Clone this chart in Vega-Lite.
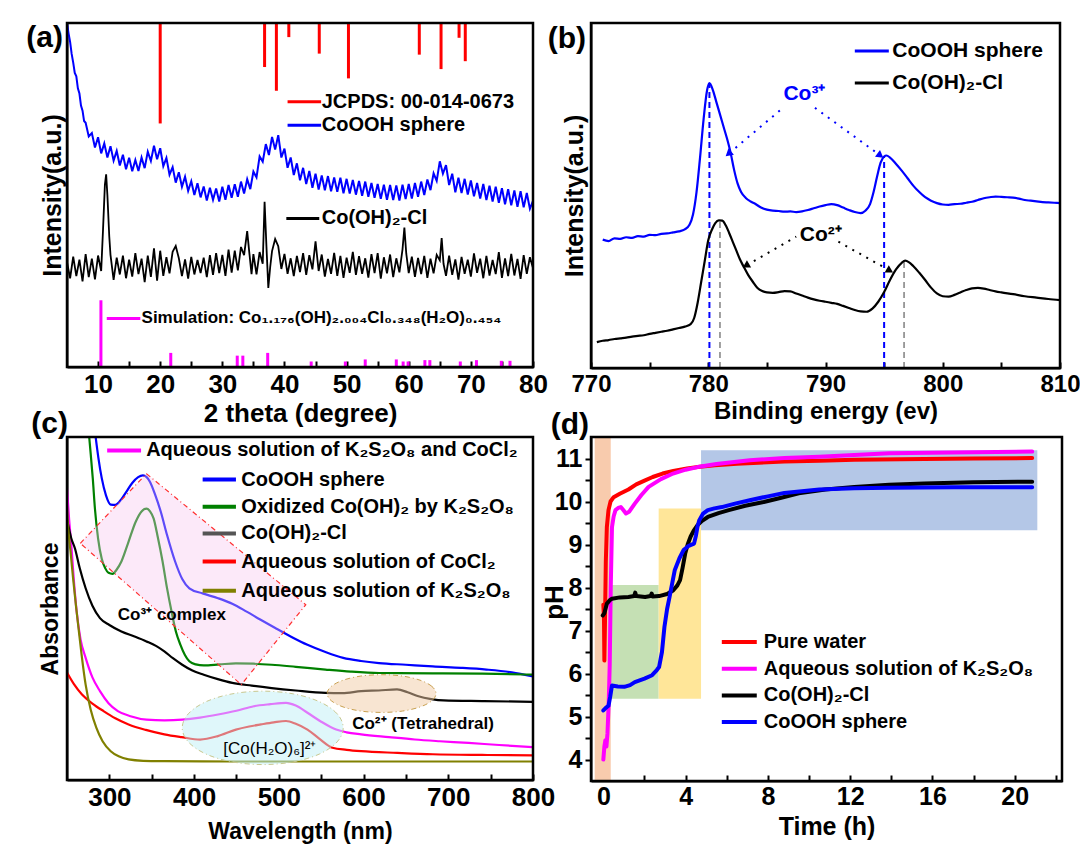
{
"$schema": "https://vega.github.io/schema/vega-lite/v6.json",
"background": "white",
"padding": {"left": 25, "top": 18, "right": 0, "bottom": 0},
"columns": 2,
"align": "each",
"bounds": "flush",
"spacing": {"row": 69, "column": 58},
"resolve": {"scale": {"color": "independent"}},
"datasets": {
"xrdBlue": [{"x":5,"y":100},{"x":5.25,"y":97},{"x":5.5,"y":94.5},{"x":5.75,"y":91},{"x":6,"y":88.5},{"x":6.25,"y":85.5},{"x":6.5,"y":84.5},{"x":6.75,"y":81},{"x":7,"y":79.5},{"x":7.25,"y":76},{"x":7.5,"y":74.5},{"x":7.75,"y":71.5},{"x":8,"y":71},{"x":8.5,"y":67},{"x":9,"y":68},{"x":9.5,"y":63.8},{"x":10,"y":66.8},{"x":10.5,"y":62.1},{"x":11,"y":65},{"x":11.5,"y":60.9},{"x":12,"y":64.2},{"x":12.5,"y":60},{"x":13,"y":62.8},{"x":13.5,"y":58.6},{"x":14,"y":61.7},{"x":14.5,"y":57.5},{"x":15,"y":60.8},{"x":15.5,"y":56.9},{"x":16,"y":60.2},{"x":16.5,"y":57},{"x":17,"y":60.9},{"x":17.5,"y":57.8},{"x":18,"y":62.6},{"x":18.5,"y":59.9},{"x":19,"y":64.3},{"x":19.5,"y":60.4},{"x":20,"y":63.6},{"x":20.5,"y":58.4},{"x":21,"y":60.8},{"x":21.5,"y":55.9},{"x":22,"y":58.1},{"x":22.5,"y":53.6},{"x":23,"y":56.6},{"x":23.5,"y":52.4},{"x":24,"y":55.3},{"x":24.5,"y":51.2},{"x":25,"y":54},{"x":25.5,"y":50},{"x":26,"y":53.4},{"x":26.5,"y":49.3},{"x":27,"y":52.5},{"x":27.5,"y":48.4},{"x":28,"y":52.1},{"x":28.5,"y":48.6},{"x":29,"y":51.9},{"x":29.5,"y":48.1},{"x":30,"y":52.4},{"x":30.5,"y":48.6},{"x":31,"y":52.9},{"x":31.5,"y":49.2},{"x":32,"y":53.1},{"x":32.5,"y":49.5},{"x":33,"y":53.9},{"x":33.5,"y":50.4},{"x":34,"y":54.6},{"x":34.5,"y":51.7},{"x":35,"y":56.8},{"x":35.5,"y":55.1},{"x":36,"y":61.2},{"x":36.5,"y":59.7},{"x":37,"y":64.8},{"x":37.5,"y":61.6},{"x":38,"y":66.9},{"x":38.5,"y":63.2},{"x":39,"y":67.4},{"x":39.5,"y":60.9},{"x":40,"y":63.5},{"x":40.5,"y":57.9},{"x":41,"y":60.9},{"x":41.5,"y":55.8},{"x":42,"y":59.2},{"x":42.5,"y":54.3},{"x":43,"y":57.9},{"x":43.5,"y":53.2},{"x":44,"y":57},{"x":44.5,"y":52.1},{"x":45,"y":56.2},{"x":45.5,"y":51.6},{"x":46,"y":55.7},{"x":46.5,"y":51.4},{"x":47,"y":55.5},{"x":47.5,"y":51.1},{"x":48,"y":55.1},{"x":48.5,"y":50.9},{"x":49,"y":55},{"x":49.5,"y":50.5},{"x":50,"y":54.7},{"x":50.5,"y":50.4},{"x":51,"y":54.4},{"x":51.5,"y":50.1},{"x":52,"y":54.1},{"x":52.5,"y":49.8},{"x":53,"y":53.9},{"x":53.5,"y":49.5},{"x":54,"y":53.5},{"x":54.5,"y":49.2},{"x":55,"y":53.2},{"x":55.5,"y":48.9},{"x":56,"y":53},{"x":56.5,"y":48.6},{"x":57,"y":52.9},{"x":57.5,"y":48.5},{"x":58,"y":52.8},{"x":58.5,"y":48.4},{"x":59,"y":53},{"x":59.5,"y":48.8},{"x":60,"y":53.2},{"x":60.5,"y":49},{"x":61,"y":53.5},{"x":61.5,"y":49.5},{"x":62,"y":53.9},{"x":62.5,"y":50},{"x":63,"y":54.5},{"x":63.5,"y":51.4},{"x":64,"y":56.3},{"x":64.5,"y":54.1},{"x":65,"y":59.8},{"x":65.5,"y":56.2},{"x":66,"y":58.7},{"x":66.5,"y":52.9},{"x":67,"y":56.2},{"x":67.5,"y":50.8},{"x":68,"y":55},{"x":68.5,"y":50.6},{"x":69,"y":54.7},{"x":69.5,"y":50.1},{"x":70,"y":54.2},{"x":70.5,"y":49.6},{"x":71,"y":53.5},{"x":71.5,"y":49},{"x":72,"y":53.2},{"x":72.5,"y":48.5},{"x":73,"y":52.7},{"x":73.5,"y":48.1},{"x":74,"y":52.4},{"x":74.5,"y":47.7},{"x":75,"y":52},{"x":75.5,"y":47.3},{"x":76,"y":51.7},{"x":76.5,"y":47},{"x":77,"y":51.3},{"x":77.5,"y":46.6},{"x":78,"y":51.1},{"x":78.5,"y":46.4},{"x":79,"y":50.6},{"x":79.5,"y":46},{"x":80,"y":48.3}],
"xrdBlack": [{"x":5,"y":30.5},{"x":5.5,"y":25.8},{"x":6,"y":32.1},{"x":6.5,"y":26.4},{"x":7,"y":31.2},{"x":7.5,"y":24.9},{"x":8,"y":32.8},{"x":8.5,"y":26.1},{"x":9,"y":31.5},{"x":9.5,"y":25.5},{"x":10,"y":32.4},{"x":10.5,"y":27.9},{"x":10.8,"y":40},{"x":11.1,"y":53},{"x":11.3,"y":56},{"x":11.5,"y":50},{"x":11.8,"y":38},{"x":12,"y":32.6},{"x":12.5,"y":25.3},{"x":13,"y":31.8},{"x":13.5,"y":26.9},{"x":14,"y":32.4},{"x":14.5,"y":25.8},{"x":15,"y":31.2},{"x":15.5,"y":26.3},{"x":16,"y":33.1},{"x":16.5,"y":27},{"x":17,"y":31.5},{"x":17.5,"y":24.7},{"x":18,"y":32.4},{"x":18.5,"y":26.2},{"x":19,"y":34.5},{"x":19.5,"y":25.1},{"x":20,"y":33.8},{"x":20.5,"y":26.5},{"x":21,"y":31.9},{"x":21.5,"y":27.2},{"x":22,"y":33.5},{"x":22.5,"y":35.2},{"x":23,"y":31.6},{"x":23.5,"y":26.4},{"x":24,"y":31.3},{"x":24.5,"y":25.7},{"x":25,"y":32},{"x":25.5,"y":26.9},{"x":26,"y":31.1},{"x":26.5,"y":27.3},{"x":27,"y":31.8},{"x":27.5,"y":26.1},{"x":28,"y":32.5},{"x":28.5,"y":26.8},{"x":29,"y":33.1},{"x":29.5,"y":27.3},{"x":30,"y":32.6},{"x":30.5,"y":26.5},{"x":31,"y":34.1},{"x":31.5,"y":27.4},{"x":32,"y":33.8},{"x":32.5,"y":28.1},{"x":33,"y":34.9},{"x":33.5,"y":32.5},{"x":34,"y":39.5},{"x":34.3,"y":34},{"x":34.7,"y":27},{"x":35,"y":32.8},{"x":35.5,"y":26.9},{"x":36,"y":33.4},{"x":36.5,"y":30},{"x":36.8,"y":48},{"x":37.1,"y":35},{"x":37.4,"y":23},{"x":37.7,"y":29},{"x":38,"y":33.7},{"x":38.5,"y":37.2},{"x":39,"y":35.1},{"x":39.5,"y":28.5},{"x":40,"y":32.9},{"x":40.5,"y":27.1},{"x":41,"y":31.6},{"x":41.5,"y":26.4},{"x":42,"y":32.3},{"x":42.5,"y":27.6},{"x":43,"y":33.1},{"x":43.5,"y":26.8},{"x":44,"y":32.5},{"x":44.5,"y":28.4},{"x":45,"y":36.5},{"x":45.5,"y":27.9},{"x":46,"y":32.7},{"x":46.5,"y":26.3},{"x":47,"y":31.4},{"x":47.5,"y":27.1},{"x":48,"y":33.2},{"x":48.5,"y":26.5},{"x":49,"y":32.3},{"x":49.5,"y":25.9},{"x":50,"y":31.8},{"x":50.5,"y":27.4},{"x":51,"y":33.5},{"x":51.5,"y":26.8},{"x":52,"y":32.2},{"x":52.5,"y":27.1},{"x":53,"y":31.6},{"x":53.5,"y":26},{"x":54,"y":32.8},{"x":54.5,"y":27.3},{"x":55,"y":33.1},{"x":55.5,"y":25.7},{"x":56,"y":31.9},{"x":56.5,"y":27.2},{"x":57,"y":32.7},{"x":57.5,"y":26.1},{"x":58,"y":31.6},{"x":58.5,"y":27.5},{"x":59,"y":34.2},{"x":59.3,"y":40.5},{"x":59.6,"y":33},{"x":60,"y":27.3},{"x":60.5,"y":32.1},{"x":61,"y":26.2},{"x":61.5,"y":31.7},{"x":62,"y":27},{"x":62.5,"y":32.3},{"x":63,"y":25.9},{"x":63.5,"y":31.5},{"x":64,"y":27.2},{"x":64.5,"y":32.6},{"x":65,"y":31},{"x":65.3,"y":37.5},{"x":65.6,"y":30},{"x":66,"y":26.5},{"x":66.5,"y":32.4},{"x":67,"y":26.8},{"x":67.5,"y":31.3},{"x":68,"y":25.4},{"x":68.5,"y":32},{"x":69,"y":27.1},{"x":69.5,"y":31.2},{"x":70,"y":26.3},{"x":70.5,"y":33},{"x":71,"y":27.4},{"x":71.5,"y":31.5},{"x":72,"y":25.8},{"x":72.5,"y":32.3},{"x":73,"y":26.6},{"x":73.5,"y":31.1},{"x":74,"y":27},{"x":74.5,"y":33.4},{"x":75,"y":25.9},{"x":75.5,"y":31.6},{"x":76,"y":26.4},{"x":76.5,"y":32.9},{"x":77,"y":26.6},{"x":77.5,"y":31.4},{"x":78,"y":25.6},{"x":78.5,"y":32.5},{"x":79,"y":27.1},{"x":79.5,"y":31.9},{"x":80,"y":28.8}],
"xps": [
{"s":"CoOOH","x":771,"y":37.2},{"s":"CoOOH","x":771.5,"y":36.8},{"s":"CoOOH","x":772,"y":37.6},{"s":"CoOOH","x":772.5,"y":37.4},{"s":"CoOOH","x":773,"y":37.9},{"s":"CoOOH","x":773.5,"y":37.7},{"s":"CoOOH","x":774,"y":38.2},{"s":"CoOOH","x":774.5,"y":38.1},{"s":"CoOOH","x":775,"y":38.6},{"s":"CoOOH","x":775.5,"y":38.5},{"s":"CoOOH","x":776,"y":38.9},{"s":"CoOOH","x":776.5,"y":39},{"s":"CoOOH","x":777,"y":39.3},{"s":"CoOOH","x":777.5,"y":39.6},{"s":"CoOOH","x":778,"y":40.2},{"s":"CoOOH","x":778.4,"y":41.5},{"s":"CoOOH","x":778.7,"y":44.5},{"s":"CoOOH","x":779,"y":51},{"s":"CoOOH","x":779.3,"y":61},{"s":"CoOOH","x":779.6,"y":72},{"s":"CoOOH","x":779.9,"y":80.5},{"s":"CoOOH","x":780.1,"y":82.6},{"s":"CoOOH","x":780.4,"y":80.5},{"s":"CoOOH","x":780.7,"y":77},{"s":"CoOOH","x":781,"y":73.5},{"s":"CoOOH","x":781.3,"y":70},{"s":"CoOOH","x":781.6,"y":66.5},{"s":"CoOOH","x":781.9,"y":62.5},{"s":"CoOOH","x":782.2,"y":57.5},{"s":"CoOOH","x":782.5,"y":53.5},{"s":"CoOOH","x":782.8,"y":51},{"s":"CoOOH","x":783.2,"y":49.3},{"s":"CoOOH","x":783.6,"y":48.3},{"s":"CoOOH","x":784,"y":47.6},{"s":"CoOOH","x":784.5,"y":46.5},{"s":"CoOOH","x":785,"y":45.9},{"s":"CoOOH","x":785.5,"y":45.6},{"s":"CoOOH","x":786,"y":45.5},{"s":"CoOOH","x":786.5,"y":45.3},{"s":"CoOOH","x":787,"y":45.4},{"s":"CoOOH","x":787.5,"y":45.2},{"s":"CoOOH","x":788,"y":45.4},{"s":"CoOOH","x":788.5,"y":45.8},{"s":"CoOOH","x":789,"y":46.3},{"s":"CoOOH","x":789.5,"y":46.8},{"s":"CoOOH","x":790,"y":47.2},{"s":"CoOOH","x":790.5,"y":47.5},{"s":"CoOOH","x":791,"y":47.2},{"s":"CoOOH","x":791.5,"y":46.5},{"s":"CoOOH","x":792,"y":45.8},{"s":"CoOOH","x":792.5,"y":45.2},{"s":"CoOOH","x":793,"y":44.9},{"s":"CoOOH","x":793.4,"y":45.6},{"s":"CoOOH","x":793.8,"y":47.5},{"s":"CoOOH","x":794.1,"y":51},{"s":"CoOOH","x":794.4,"y":55.5},{"s":"CoOOH","x":794.7,"y":59.5},{"s":"CoOOH","x":795,"y":61.3},{"s":"CoOOH","x":795.2,"y":61.6},{"s":"CoOOH","x":795.5,"y":61},{"s":"CoOOH","x":796,"y":59.2},{"s":"CoOOH","x":796.5,"y":57.2},{"s":"CoOOH","x":797,"y":55},{"s":"CoOOH","x":797.5,"y":52.8},{"s":"CoOOH","x":798,"y":51},{"s":"CoOOH","x":798.5,"y":49.5},{"s":"CoOOH","x":799,"y":48.5},{"s":"CoOOH","x":799.5,"y":47.8},{"s":"CoOOH","x":800,"y":47.4},{"s":"CoOOH","x":800.5,"y":47.3},{"s":"CoOOH","x":801,"y":47.5},{"s":"CoOOH","x":801.5,"y":47.6},{"s":"CoOOH","x":802,"y":47.9},{"s":"CoOOH","x":802.5,"y":48.2},{"s":"CoOOH","x":803,"y":48.7},{"s":"CoOOH","x":803.5,"y":49.2},{"s":"CoOOH","x":804,"y":49.5},{"s":"CoOOH","x":804.5,"y":49.7},{"s":"CoOOH","x":805,"y":49.6},{"s":"CoOOH","x":805.5,"y":49.5},{"s":"CoOOH","x":806,"y":49.4},{"s":"CoOOH","x":806.5,"y":49.1},{"s":"CoOOH","x":807,"y":48.7},{"s":"CoOOH","x":807.5,"y":48.5},{"s":"CoOOH","x":808,"y":48.3},{"s":"CoOOH","x":808.5,"y":48.1},{"s":"CoOOH","x":809,"y":48},{"s":"CoOOH","x":809.5,"y":47.9},{"s":"CoOOH","x":810,"y":47.8},
{"s":"CoCl","x":770.5,"y":7.5},{"s":"CoCl","x":771,"y":7.9},{"s":"CoCl","x":771.5,"y":8.1},{"s":"CoCl","x":772,"y":8.4},{"s":"CoCl","x":772.5,"y":8.6},{"s":"CoCl","x":773,"y":8.8},{"s":"CoCl","x":773.5,"y":9.1},{"s":"CoCl","x":774,"y":9.3},{"s":"CoCl","x":774.5,"y":9.5},{"s":"CoCl","x":775,"y":9.9},{"s":"CoCl","x":775.5,"y":10.2},{"s":"CoCl","x":776,"y":10.5},{"s":"CoCl","x":776.5,"y":10.8},{"s":"CoCl","x":777,"y":11.2},{"s":"CoCl","x":777.5,"y":11.6},{"s":"CoCl","x":778,"y":12},{"s":"CoCl","x":778.5,"y":12.7},{"s":"CoCl","x":778.8,"y":14.5},{"s":"CoCl","x":779.1,"y":19},{"s":"CoCl","x":779.4,"y":25},{"s":"CoCl","x":779.7,"y":31},{"s":"CoCl","x":780,"y":37},{"s":"CoCl","x":780.3,"y":40},{"s":"CoCl","x":780.6,"y":42},{"s":"CoCl","x":780.9,"y":42.8},{"s":"CoCl","x":781.2,"y":42.7},{"s":"CoCl","x":781.5,"y":41.3},{"s":"CoCl","x":781.8,"y":39},{"s":"CoCl","x":782.1,"y":36.5},{"s":"CoCl","x":782.4,"y":34},{"s":"CoCl","x":782.7,"y":31.5},{"s":"CoCl","x":783,"y":29.5},{"s":"CoCl","x":783.4,"y":27},{"s":"CoCl","x":783.8,"y":25},{"s":"CoCl","x":784.2,"y":23.2},{"s":"CoCl","x":784.6,"y":22.3},{"s":"CoCl","x":785,"y":21.9},{"s":"CoCl","x":785.5,"y":21.8},{"s":"CoCl","x":786,"y":22},{"s":"CoCl","x":786.5,"y":22.3},{"s":"CoCl","x":787,"y":22.2},{"s":"CoCl","x":787.5,"y":21.6},{"s":"CoCl","x":788,"y":21},{"s":"CoCl","x":788.5,"y":20.4},{"s":"CoCl","x":789,"y":19.9},{"s":"CoCl","x":789.5,"y":19.5},{"s":"CoCl","x":790,"y":19.2},{"s":"CoCl","x":790.5,"y":18.9},{"s":"CoCl","x":791,"y":18.6},{"s":"CoCl","x":791.5,"y":18},{"s":"CoCl","x":792,"y":17.4},{"s":"CoCl","x":792.5,"y":16.8},{"s":"CoCl","x":793,"y":16.4},{"s":"CoCl","x":793.5,"y":16.3},{"s":"CoCl","x":794,"y":17.2},{"s":"CoCl","x":794.5,"y":19.2},{"s":"CoCl","x":795,"y":22},{"s":"CoCl","x":795.5,"y":25.5},{"s":"CoCl","x":796,"y":28.5},{"s":"CoCl","x":796.5,"y":30.5},{"s":"CoCl","x":796.8,"y":31.1},{"s":"CoCl","x":797.1,"y":30.7},{"s":"CoCl","x":797.5,"y":29.5},{"s":"CoCl","x":798,"y":27.6},{"s":"CoCl","x":798.5,"y":25.5},{"s":"CoCl","x":799,"y":23.3},{"s":"CoCl","x":799.5,"y":21.6},{"s":"CoCl","x":800,"y":20.8},{"s":"CoCl","x":800.5,"y":20.7},{"s":"CoCl","x":801,"y":21.2},{"s":"CoCl","x":801.5,"y":21.9},{"s":"CoCl","x":802,"y":22.6},{"s":"CoCl","x":802.5,"y":23.1},{"s":"CoCl","x":803,"y":23.2},{"s":"CoCl","x":803.5,"y":23},{"s":"CoCl","x":804,"y":22.6},{"s":"CoCl","x":804.5,"y":22.2},{"s":"CoCl","x":805,"y":21.9},{"s":"CoCl","x":806,"y":21.4},{"s":"CoCl","x":807,"y":20.8},{"s":"CoCl","x":808,"y":20.4},{"s":"CoCl","x":809,"y":20},{"s":"CoCl","x":810,"y":19.7}],
"uv": [
{"s":"uvMg","x":250,"y":85},{"s":"uvMg","x":252.5,"y":76},{"s":"uvMg","x":255.1,"y":68.5},{"s":"uvMg","x":258,"y":58.5},{"s":"uvMg","x":261.4,"y":49.1},{"s":"uvMg","x":266,"y":41},{"s":"uvMg","x":272,"y":35.6},{"s":"uvMg","x":280,"y":29.9},{"s":"uvMg","x":288.9,"y":25.9},{"s":"uvMg","x":299,"y":22.4},{"s":"uvMg","x":310,"y":20.1},{"s":"uvMg","x":325,"y":18.6},{"s":"uvMg","x":343.8,"y":17.6},{"s":"uvMg","x":365,"y":17.4},{"s":"uvMg","x":386,"y":17.6},{"s":"uvMg","x":407,"y":18.2},{"s":"uvMg","x":428.3,"y":19.1},{"s":"uvMg","x":450,"y":20.2},{"s":"uvMg","x":470.5,"y":21.5},{"s":"uvMg","x":490,"y":22.1},{"s":"uvMg","x":508.5,"y":22.5},{"s":"uvMg","x":520,"y":21.7},{"s":"uvMg","x":533.8,"y":19.6},{"s":"uvMg","x":550,"y":17},{"s":"uvMg","x":567.7,"y":14.7},{"s":"uvMg","x":580,"y":13.9},{"s":"uvMg","x":597.2,"y":13.3},{"s":"uvMg","x":630,"y":12.5},{"s":"uvMg","x":660.5,"y":11.8},{"s":"uvMg","x":690,"y":11.3},{"s":"uvMg","x":723.9,"y":10.8},{"s":"uvMg","x":760,"y":10.2},{"s":"uvMg","x":800,"y":9.6},
{"s":"uvBl","x":283.8,"y":100},{"s":"uvBl","x":287,"y":94},{"s":"uvBl","x":291,"y":88},{"s":"uvBl","x":296,"y":83},{"s":"uvBl","x":301.6,"y":80.3},{"s":"uvBl","x":307,"y":80.2},{"s":"uvBl","x":314,"y":81.8},{"s":"uvBl","x":320,"y":84},{"s":"uvBl","x":327,"y":86.6},{"s":"uvBl","x":334,"y":88.3},{"s":"uvBl","x":339.6,"y":88.8},{"s":"uvBl","x":344,"y":88.3},{"s":"uvBl","x":348,"y":86.9},{"s":"uvBl","x":354,"y":83.2},{"s":"uvBl","x":360.7,"y":78.2},{"s":"uvBl","x":368,"y":71.5},{"s":"uvBl","x":377.6,"y":63.7},{"s":"uvBl","x":386,"y":58.6},{"s":"uvBl","x":394.4,"y":55.9},{"s":"uvBl","x":410,"y":54.4},{"s":"uvBl","x":428.3,"y":53},{"s":"uvBl","x":445,"y":51.4},{"s":"uvBl","x":462,"y":49.1},{"s":"uvBl","x":478,"y":46.8},{"s":"uvBl","x":495.8,"y":44.3},{"s":"uvBl","x":515,"y":41.7},{"s":"uvBl","x":533.8,"y":39.4},{"s":"uvBl","x":555,"y":37.3},{"s":"uvBl","x":576,"y":35.6},{"s":"uvBl","x":597,"y":34.7},{"s":"uvBl","x":618.3,"y":34.1},{"s":"uvBl","x":650,"y":33.6},{"s":"uvBl","x":681.7,"y":33.1},{"s":"uvBl","x":715,"y":32.7},{"s":"uvBl","x":745,"y":32.2},{"s":"uvBl","x":775,"y":31.4},{"s":"uvBl","x":800,"y":30.2},
{"s":"uvGr","x":276.2,"y":100},{"s":"uvGr","x":278,"y":95},{"s":"uvGr","x":280.4,"y":88},{"s":"uvGr","x":283,"y":79},{"s":"uvGr","x":286.7,"y":70.4},{"s":"uvGr","x":291,"y":64.5},{"s":"uvGr","x":295.2,"y":61.7},{"s":"uvGr","x":299,"y":60.4},{"s":"uvGr","x":303.7,"y":60.1},{"s":"uvGr","x":308.5,"y":61.3},{"s":"uvGr","x":314.2,"y":63.7},{"s":"uvGr","x":322,"y":69},{"s":"uvGr","x":331.1,"y":75.3},{"s":"uvGr","x":338,"y":78.3},{"s":"uvGr","x":343.8,"y":79.1},{"s":"uvGr","x":348,"y":78.3},{"s":"uvGr","x":352.3,"y":76.2},{"s":"uvGr","x":357,"y":71},{"s":"uvGr","x":362.8,"y":63.7},{"s":"uvGr","x":368,"y":56},{"s":"uvGr","x":373.4,"y":49.1},{"s":"uvGr","x":378.5,"y":43.3},{"s":"uvGr","x":383.9,"y":39.4},{"s":"uvGr","x":389,"y":36.5},{"s":"uvGr","x":394.4,"y":34.6},{"s":"uvGr","x":402,"y":33.7},{"s":"uvGr","x":411.4,"y":33.4},{"s":"uvGr","x":430,"y":33.7},{"s":"uvGr","x":449.4,"y":34},{"s":"uvGr","x":470,"y":33.9},{"s":"uvGr","x":491.6,"y":33.6},{"s":"uvGr","x":520,"y":33},{"s":"uvGr","x":555,"y":32.2},{"s":"uvGr","x":585,"y":31.6},{"s":"uvGr","x":618.3,"y":31.2},{"s":"uvGr","x":681.7,"y":31.1},{"s":"uvGr","x":740,"y":31},{"s":"uvGr","x":800,"y":30.7},
{"s":"uvBk","x":250,"y":76},{"s":"uvBk","x":255,"y":70.5},{"s":"uvBk","x":259.4,"y":67.5},{"s":"uvBk","x":265,"y":61.8},{"s":"uvBk","x":272,"y":55.9},{"s":"uvBk","x":280,"y":50.8},{"s":"uvBk","x":288.9,"y":47.2},{"s":"uvBk","x":300,"y":45.2},{"s":"uvBk","x":314.2,"y":43.3},{"s":"uvBk","x":329,"y":41.9},{"s":"uvBk","x":343.8,"y":40.4},{"s":"uvBk","x":355,"y":39.1},{"s":"uvBk","x":364.9,"y":37.5},{"s":"uvBk","x":375,"y":35.5},{"s":"uvBk","x":386,"y":33.6},{"s":"uvBk","x":398,"y":31.9},{"s":"uvBk","x":411.4,"y":30.7},{"s":"uvBk","x":428,"y":29.4},{"s":"uvBk","x":445.1,"y":28.3},{"s":"uvBk","x":468,"y":27.5},{"s":"uvBk","x":491.6,"y":26.8},{"s":"uvBk","x":520,"y":26.1},{"s":"uvBk","x":555,"y":25.4},{"s":"uvBk","x":575,"y":25.3},{"s":"uvBk","x":597.2,"y":25.9},{"s":"uvBk","x":618,"y":26.1},{"s":"uvBk","x":639.5,"y":26.4},{"s":"uvBk","x":652,"y":25.6},{"s":"uvBk","x":664.8,"y":24.4},{"s":"uvBk","x":680,"y":23.6},{"s":"uvBk","x":694.3,"y":23.2},{"s":"uvBk","x":740,"y":23},{"s":"uvBk","x":800,"y":22.8},
{"s":"uvRd","x":250,"y":31.3},{"s":"uvRd","x":258,"y":28},{"s":"uvRd","x":267.7,"y":24.9},{"s":"uvRd","x":280,"y":22.3},{"s":"uvRd","x":293.1,"y":20.1},{"s":"uvRd","x":307,"y":18},{"s":"uvRd","x":322.7,"y":16.2},{"s":"uvRd","x":343,"y":14.6},{"s":"uvRd","x":364.9,"y":13.3},{"s":"uvRd","x":385,"y":12.5},{"s":"uvRd","x":407.1,"y":11.8},{"s":"uvRd","x":428,"y":12.8},{"s":"uvRd","x":449.4,"y":14.7},{"s":"uvRd","x":465,"y":15.6},{"s":"uvRd","x":478.9,"y":16.2},{"s":"uvRd","x":494,"y":16.8},{"s":"uvRd","x":508.5,"y":17.2},{"s":"uvRd","x":520,"y":16.4},{"s":"uvRd","x":533.8,"y":14.7},{"s":"uvRd","x":548,"y":12},{"s":"uvRd","x":563.4,"y":9.4},{"s":"uvRd","x":580,"y":8.8},{"s":"uvRd","x":597.2,"y":8.4},{"s":"uvRd","x":640,"y":7.9},{"s":"uvRd","x":681.7,"y":7.5},{"s":"uvRd","x":740,"y":7.3},{"s":"uvRd","x":800,"y":7.2},
{"s":"uvOl","x":250,"y":80},{"s":"uvOl","x":250.9,"y":75.3},{"s":"uvOl","x":254,"y":67},{"s":"uvOl","x":257.2,"y":58.8},{"s":"uvOl","x":260.5,"y":51},{"s":"uvOl","x":263.6,"y":44.3},{"s":"uvOl","x":267.5,"y":36},{"s":"uvOl","x":272,"y":27.8},{"s":"uvOl","x":278,"y":20.5},{"s":"uvOl","x":284.7,"y":15.2},{"s":"uvOl","x":292,"y":11.3},{"s":"uvOl","x":301.6,"y":8.4},{"s":"uvOl","x":311,"y":6.9},{"s":"uvOl","x":322.7,"y":6},{"s":"uvOl","x":340,"y":5.6},{"s":"uvOl","x":364.9,"y":5.5},{"s":"uvOl","x":450,"y":5.4},{"s":"uvOl","x":600,"y":5.4},{"s":"uvOl","x":800,"y":5.4}],
"ph": [
{"s":"phRd","x":0,"y":7.6},{"s":"phRd","x":0.03,"y":7.3},{"s":"phRd","x":0.05,"y":6.3},{"s":"phRd","x":0.08,"y":7.2},{"s":"phRd","x":0.12,"y":8.6},{"s":"phRd","x":0.17,"y":9.4},{"s":"phRd","x":0.25,"y":9.8},{"s":"phRd","x":0.35,"y":10},{"s":"phRd","x":0.5,"y":10.1},{"s":"phRd","x":0.8,"y":10.18},{"s":"phRd","x":1.22,"y":10.28},{"s":"phRd","x":1.6,"y":10.4},{"s":"phRd","x":2.03,"y":10.49},{"s":"phRd","x":2.4,"y":10.57},{"s":"phRd","x":2.88,"y":10.65},{"s":"phRd","x":3.4,"y":10.71},{"s":"phRd","x":4.07,"y":10.77},{"s":"phRd","x":4.7,"y":10.81},{"s":"phRd","x":5.42,"y":10.84},{"s":"phRd","x":6.5,"y":10.88},{"s":"phRd","x":8.8,"y":10.93},{"s":"phRd","x":10.5,"y":10.95},{"s":"phRd","x":12.2,"y":10.97},{"s":"phRd","x":15.6,"y":10.99},{"s":"phRd","x":18,"y":11},{"s":"phRd","x":20.85,"y":11.01},
{"s":"phMg","x":0,"y":4},{"s":"phMg","x":0.05,"y":4.3},{"s":"phMg","x":0.1,"y":4.45},{"s":"phMg","x":0.15,"y":4.3},{"s":"phMg","x":0.2,"y":4.6},{"s":"phMg","x":0.26,"y":5.3},{"s":"phMg","x":0.31,"y":6.2},{"s":"phMg","x":0.36,"y":8},{"s":"phMg","x":0.42,"y":9.4},{"s":"phMg","x":0.5,"y":9.65},{"s":"phMg","x":0.59,"y":9.8},{"s":"phMg","x":0.72,"y":9.85},{"s":"phMg","x":0.85,"y":9.87},{"s":"phMg","x":0.97,"y":9.8},{"s":"phMg","x":1.1,"y":9.72},{"s":"phMg","x":1.25,"y":9.76},{"s":"phMg","x":1.53,"y":9.95},{"s":"phMg","x":1.85,"y":10.15},{"s":"phMg","x":2.2,"y":10.34},{"s":"phMg","x":2.8,"y":10.52},{"s":"phMg","x":3.39,"y":10.65},{"s":"phMg","x":4,"y":10.74},{"s":"phMg","x":4.58,"y":10.8},{"s":"phMg","x":5.5,"y":10.87},{"s":"phMg","x":7.12,"y":10.96},{"s":"phMg","x":8.8,"y":11.01},{"s":"phMg","x":10.5,"y":11.04},{"s":"phMg","x":13.9,"y":11.12},{"s":"phMg","x":17,"y":11.14},{"s":"phMg","x":20.85,"y":11.16},
{"s":"phBk","x":-0.03,"y":7.35},{"s":"phBk","x":0.05,"y":7.4},{"s":"phBk","x":0.17,"y":7.62},{"s":"phBk","x":0.3,"y":7.7},{"s":"phBk","x":0.42,"y":7.74},{"s":"phBk","x":0.8,"y":7.77},{"s":"phBk","x":1.22,"y":7.78},{"s":"phBk","x":1.5,"y":7.8},{"s":"phBk","x":1.55,"y":7.88},{"s":"phBk","x":1.6,"y":7.8},{"s":"phBk","x":2.03,"y":7.78},{"s":"phBk","x":2.3,"y":7.8},{"s":"phBk","x":2.35,"y":7.86},{"s":"phBk","x":2.4,"y":7.79},{"s":"phBk","x":2.71,"y":7.8},{"s":"phBk","x":3.1,"y":7.85},{"s":"phBk","x":3.39,"y":7.93},{"s":"phBk","x":3.6,"y":8.05},{"s":"phBk","x":3.73,"y":8.17},{"s":"phBk","x":3.85,"y":8.45},{"s":"phBk","x":3.98,"y":8.79},{"s":"phBk","x":4.1,"y":9},{"s":"phBk","x":4.24,"y":9.18},{"s":"phBk","x":4.4,"y":9.33},{"s":"phBk","x":4.58,"y":9.45},{"s":"phBk","x":4.8,"y":9.55},{"s":"phBk","x":5.08,"y":9.64},{"s":"phBk","x":5.6,"y":9.73},{"s":"phBk","x":6.1,"y":9.8},{"s":"phBk","x":6.9,"y":9.9},{"s":"phBk","x":7.8,"y":9.99},{"s":"phBk","x":8.6,"y":10.08},{"s":"phBk","x":9.5,"y":10.19},{"s":"phBk","x":10.8,"y":10.28},{"s":"phBk","x":12.2,"y":10.34},{"s":"phBk","x":13.9,"y":10.39},{"s":"phBk","x":15.6,"y":10.42},{"s":"phBk","x":18,"y":10.45},{"s":"phBk","x":20.85,"y":10.46},
{"s":"phBl","x":0,"y":5.14},{"s":"phBl","x":0.12,"y":5.2},{"s":"phBl","x":0.25,"y":5.25},{"s":"phBl","x":0.33,"y":5.45},{"s":"phBl","x":0.42,"y":5.72},{"s":"phBl","x":0.7,"y":5.7},{"s":"phBl","x":1.02,"y":5.69},{"s":"phBl","x":1.3,"y":5.73},{"s":"phBl","x":1.53,"y":5.8},{"s":"phBl","x":2,"y":5.88},{"s":"phBl","x":2.37,"y":5.96},{"s":"phBl","x":2.6,"y":6.08},{"s":"phBl","x":2.71,"y":6.15},{"s":"phBl","x":2.85,"y":6.5},{"s":"phBl","x":2.97,"y":7.08},{"s":"phBl","x":3.1,"y":7.5},{"s":"phBl","x":3.22,"y":7.78},{"s":"phBl","x":3.35,"y":8.1},{"s":"phBl","x":3.47,"y":8.4},{"s":"phBl","x":3.7,"y":8.68},{"s":"phBl","x":3.9,"y":8.87},{"s":"phBl","x":4.15,"y":8.97},{"s":"phBl","x":4.41,"y":9.02},{"s":"phBl","x":4.5,"y":9.2},{"s":"phBl","x":4.58,"y":9.42},{"s":"phBl","x":4.66,"y":9.56},{"s":"phBl","x":4.85,"y":9.72},{"s":"phBl","x":5.08,"y":9.8},{"s":"phBl","x":5.4,"y":9.84},{"s":"phBl","x":5.76,"y":9.87},{"s":"phBl","x":6.4,"y":9.95},{"s":"phBl","x":7.12,"y":10.03},{"s":"phBl","x":8,"y":10.12},{"s":"phBl","x":8.8,"y":10.2},{"s":"phBl","x":10.5,"y":10.28},{"s":"phBl","x":12.2,"y":10.31},{"s":"phBl","x":13.9,"y":10.32},{"s":"phBl","x":17,"y":10.33},{"s":"phBl","x":20.85,"y":10.33}]
},
"concat": [
{
"width": 466, "height": 344,
"encoding": {
"x": {"field": "x", "type": "quantitative", "scale": {"domain": [5, 80], "nice": false, "zero": false},
"axis": {"title": "2 theta (degree)", "values": [10,15,20,25,30,35,40,45,50,55,60,65,70,75,80], "labelExpr": "datum.value % 10 === 0 ? datum.label : ''", "tickSize": -6, "labelFontSize": 26, "titleFontSize": 26, "labelPadding": 10, "titlePadding": 3}},
"y": {"field": "y", "type": "quantitative", "scale": {"domain": [0, 100], "nice": false, "zero": false},
"axis": {"title": "Intensity(a.u.)", "ticks": false, "labels": false, "titleFontSize": 25, "titlePadding": 2}}
},
"layer": [
{"data": {"name": "xrdBlue"}, "mark": {"type": "line", "color": "#0000ff", "strokeWidth": 2}},
{"data": {"name": "xrdBlack"}, "mark": {"type": "line", "color": "#000000", "strokeWidth": 1.8}},
{"data": {"values": [{"x":20,"y":70.8},{"x":36.8,"y":87.2},{"x":38.7,"y":80.3},{"x":40.7,"y":95.9},{"x":45.6,"y":91.1},{"x":50.3,"y":83.9},{"x":61.7,"y":90.8},{"x":65.2,"y":86.6},{"x":68.1,"y":95.7},{"x":69.1,"y":88.9}]},
 "mark": {"type": "rule", "color": "#ff0000", "strokeWidth": 3}, "encoding": {"y": {"datum": 100}, "y2": {"field": "y"}}},
{"data": {"values": [{"x":10.46,"y":19.4},{"x":21.7,"y":4.1},{"x":32.4,"y":3.3},{"x":33.3,"y":3.3},{"x":37.3,"y":4.1},{"x":44.3,"y":1.6},{"x":49.8,"y":1.6},{"x":53,"y":2.2},{"x":58,"y":2.2},{"x":59.1,"y":1.6},{"x":59.9,"y":1.6},{"x":62.6,"y":2},{"x":63.4,"y":2},{"x":68.3,"y":1.6},{"x":70.9,"y":2},{"x":74.9,"y":1.8},{"x":76.3,"y":1.8}]},
 "mark": {"type": "rule", "color": "#ff00ff", "strokeWidth": 3}, "encoding": {"y": {"datum": 0}, "y2": {"field": "y"}}},
{"data": {"values": [{"x":40.5,"x2":45.9,"y":77.1}]}, "mark": {"type": "rule", "color": "#ff0000", "strokeWidth": 3}, "encoding": {"x2": {"field": "x2"}}},
{"data": {"values": [{"x":40.5,"x2":45.9,"y":70.3}]}, "mark": {"type": "rule", "color": "#0000ff", "strokeWidth": 3}, "encoding": {"x2": {"field": "x2"}}},
{"data": {"values": [{"x":40.3,"x2":45.6,"y":43.2}]}, "mark": {"type": "rule", "color": "#000000", "strokeWidth": 3}, "encoding": {"x2": {"field": "x2"}}},
{"data": {"values": [{"x":11.4,"x2":16.8,"y":14.1}]}, "mark": {"type": "rule", "color": "#ff00ff", "strokeWidth": 3}, "encoding": {"x2": {"field": "x2"}}},
{"data": {"values": [{"x":46.0,"y":77.1,"t":"JCPDS: 00-014-0673"},{"x":46.0,"y":70.3,"t":"CoOOH sphere"},{"x":46.0,"y":43.2,"t":"Co(OH)₂-Cl"}]},
 "mark": {"type": "text", "align": "left", "baseline": "middle", "fontSize": 20, "fontWeight": "bold", "font": "Liberation Sans", "color": "#000"}, "encoding": {"text": {"field": "t"}}},
{"data": {"values": [{"x":17.0,"y":14.1,"t":"Simulation:  Co₁.₁₇₆(OH)₂.₀₀₄Cl₀.₃₄₈(H₂O)₀.₄₅₄"}]},
 "mark": {"type": "text", "align": "left", "baseline": "middle", "fontSize": 17, "fontWeight": "bold", "font": "Liberation Sans", "color": "#000"}, "encoding": {"text": {"field": "t"}}},
{"data": {"values": [{"x":5,"y":100,"t":"(a)"}]}, "mark": {"type": "text", "align": "right", "baseline": "middle", "dx": -4, "dy": 15, "fontSize": 30, "fontWeight": "bold", "font": "Liberation Sans", "color": "#000"},
 "encoding": {"text": {"field": "t"}}},
{"data": {"values": [{"x":5,"x2":80,"y":0,"y2":100}]}, "mark": {"type": "rect", "fill": "transparent", "stroke": "#000000", "strokeWidth": 2.5, "filled": false}, "encoding": {"x2": {"field": "x2"}, "y2": {"field": "y2"}}}
]
},
{
"width": 469, "height": 345,
"encoding": {
"x": {"field": "x", "type": "quantitative", "scale": {"domain": [770, 810], "nice": false, "zero": false},
"axis": {"title": "Binding energy (ev)", "values": [770,775,780,785,790,795,800,805,810], "labelExpr": "datum.value % 10 === 0 ? datum.label : ''", "tickSize": -6, "labelFontSize": 24, "titleFontSize": 24, "labelPadding": 10, "titlePadding": 3}},
"y": {"field": "y", "type": "quantitative", "scale": {"domain": [0, 100], "nice": false, "zero": false},
"axis": {"title": "Intensity(a.u.)", "ticks": false, "labels": false, "titleFontSize": 25, "titlePadding": 4}}
},
"layer": [
{"data": {"values": [{"x":780.1,"y":82.3},{"x":795.0,"y":61.4}]}, "mark": {"type": "rule", "color": "#0000ff", "strokeWidth": 2, "strokeDash": [6, 4]}, "encoding": {"y": {"datum": 0}, "y2": {"field": "y"}}},
{"data": {"values": [{"x":781.0,"y":42.5},{"x":796.7,"y":30.9}]}, "mark": {"type": "rule", "color": "#808080", "strokeWidth": 1.5, "strokeDash": [6, 4]}, "encoding": {"y": {"datum": 0}, "y2": {"field": "y"}}},
{"data": {"name": "xps"}, "mark": {"type": "line", "strokeWidth": 2.2, "interpolate": "monotone"},
 "encoding": {"color": {"field": "s", "type": "nominal", "scale": {"domain": ["CoOOH", "CoCl"], "range": ["#0000ff", "#000000"]}, "legend": null}}},
{"data": {"values": [{"g":1,"x":786.2,"y":74.9},{"g":1,"x":781.8,"y":62.3},{"g":2,"x":789.1,"y":75.4},{"g":2,"x":794.6,"y":61.8}]},
 "mark": {"type": "line", "color": "#0000ff", "strokeWidth": 2, "strokeDash": [2, 6]}, "encoding": {"detail": {"field": "g"}}},
{"data": {"values": [{"g":1,"x":787.5,"y":38.1},{"g":1,"x":783.3,"y":29.8},{"g":2,"x":791.1,"y":36.6},{"g":2,"x":795.4,"y":28.4}]},
 "mark": {"type": "line", "color": "#000000", "strokeWidth": 2, "strokeDash": [2, 6]}, "encoding": {"detail": {"field": "g"}}},
{"data": {"values": [{"x":781.8,"y":62.3}]}, "mark": {"type": "point", "shape": "triangle", "filled": true, "color": "#0000ff", "size": 70, "angle": 229, "opacity": 1}},
{"data": {"values": [{"x":794.6,"y":61.8}]}, "mark": {"type": "point", "shape": "triangle", "filled": true, "color": "#0000ff", "size": 70, "angle": 127, "opacity": 1}},
{"data": {"values": [{"x":783.3,"y":29.8}]}, "mark": {"type": "point", "shape": "triangle", "filled": true, "color": "#000000", "size": 70, "angle": 240, "opacity": 1}},
{"data": {"values": [{"x":795.4,"y":28.4}]}, "mark": {"type": "point", "shape": "triangle", "filled": true, "color": "#000000", "size": 70, "angle": 120, "opacity": 1}},
{"data": {"values": [{"x":792.5,"x2":795.4,"y":91.9}]}, "mark": {"type": "rule", "color": "#0000ff", "strokeWidth": 3}, "encoding": {"x2": {"field": "x2"}}},
{"data": {"values": [{"x":792.5,"x2":795.4,"y":82.6}]}, "mark": {"type": "rule", "color": "#000000", "strokeWidth": 3}, "encoding": {"x2": {"field": "x2"}}},
{"data": {"values": [{"x":795.7,"y":91.9,"t":"CoOOH sphere"},{"x":795.7,"y":82.6,"t":"Co(OH)₂-Cl"}]},
 "mark": {"type": "text", "align": "left", "baseline": "middle", "fontSize": 21, "fontWeight": "bold", "font": "Liberation Sans", "color": "#000"}, "encoding": {"text": {"field": "t"}}},
{"data": {"values": [{"x":788.2,"y":79.3,"t":"Co³⁺"}]}, "mark": {"type": "text", "align": "center", "baseline": "middle", "fontSize": 21, "fontWeight": "bold", "font": "Liberation Sans", "color": "#0000ff"}, "encoding": {"text": {"field": "t"}}},
{"data": {"values": [{"x":789.6,"y":38.6,"t":"Co²⁺"}]}, "mark": {"type": "text", "align": "center", "baseline": "middle", "fontSize": 21, "fontWeight": "bold", "font": "Liberation Sans", "color": "#000000"}, "encoding": {"text": {"field": "t"}}},
{"data": {"values": [{"x":770,"y":100,"t":"(b)"}]}, "mark": {"type": "text", "align": "right", "baseline": "middle", "dx": -5, "dy": 16, "fontSize": 30, "fontWeight": "bold", "font": "Liberation Sans", "color": "#000"},
 "encoding": {"text": {"field": "t"}}},
{"data": {"values": [{"x":770,"x2":810,"y":0,"y2":100}]}, "mark": {"type": "rect", "fill": "transparent", "stroke": "#000000", "strokeWidth": 2.5, "filled": false}, "encoding": {"x2": {"field": "x2"}, "y2": {"field": "y2"}}}
]
},
{
"width": 466, "height": 343,
"encoding": {
"x": {"field": "x", "type": "quantitative", "scale": {"domain": [250, 800], "nice": false, "zero": false},
"axis": {"title": "Wavelength (nm)", "values": [300,350,400,450,500,550,600,650,700,750,800], "labelExpr": "datum.value % 100 === 0 ? datum.label : ''", "tickSize": -6, "labelFontSize": 26, "titleFontSize": 23, "labelPadding": 10, "titlePadding": 10}},
"y": {"field": "y", "type": "quantitative", "scale": {"domain": [0, 100], "nice": false, "zero": false},
"axis": {"title": "Absorbance", "ticks": false, "labels": false, "titleFontSize": 23, "titlePadding": 5}}
},
"layer": [
{"data": {"name": "uv"}, "mark": {"type": "line", "strokeWidth": 2.2, "interpolate": "monotone", "clip": true},
 "encoding": {"color": {"field": "s", "type": "nominal", "scale": {"domain": ["uvMg","uvBl","uvGr","uvBk","uvRd","uvOl"], "range": ["#ff00ff","#0000ff","#008000","#000000","#ff0000","#808000"]}, "legend": null}}},
{"data": {"values": [{"i":1,"x":265.7,"y":69},{"i":2,"x":343.8,"y":89.3},{"i":3,"x":531.8,"y":51.1},{"i":4,"x":455.7,"y":27.8}]},
 "mark": {"type": "line", "interpolate": "linear-closed", "fill": "#f8c4ee", "fillOpacity": 0.38, "stroke": "#ff3030", "strokeWidth": 1.2, "strokeDash": [5, 3, 1, 3]},
 "encoding": {"order": {"field": "i"}}},
{"data": {"values": [{"i":1,"x":576,"y":15.2},{"i":2,"x":568.8,"y":19.3},{"i":3,"x":548.2,"y":22.8},{"i":4,"x":517.4,"y":25.1},{"i":5,"x":481,"y":25.9},{"i":6,"x":444.6,"y":25.1},{"i":7,"x":413.8,"y":22.8},{"i":8,"x":393.2,"y":19.3},{"i":9,"x":386,"y":15.2},{"i":10,"x":393.2,"y":11.1},{"i":11,"x":413.8,"y":7.6},{"i":12,"x":444.6,"y":5.3},{"i":13,"x":481,"y":4.5},{"i":14,"x":517.4,"y":5.3},{"i":15,"x":548.2,"y":7.6},{"i":16,"x":568.8,"y":11.1}]},
 "mark": {"type": "line", "interpolate": "cardinal-closed", "fill": "#bff0f5", "fillOpacity": 0.5, "stroke": "#c8c890", "strokeWidth": 1, "strokeDash": [5, 3, 1, 3]},
 "encoding": {"order": {"field": "i"}}},
{"data": {"values": [{"i":1,"x":685.5,"y":25.2},{"i":2,"x":680.6,"y":27.3},{"i":3,"x":666.7,"y":29.1},{"i":4,"x":645.9,"y":30.3},{"i":5,"x":621.3,"y":30.7},{"i":6,"x":596.7,"y":30.3},{"i":7,"x":575.9,"y":29.1},{"i":8,"x":562,"y":27.3},{"i":9,"x":557.1,"y":25.2},{"i":10,"x":562,"y":23.1},{"i":11,"x":575.9,"y":21.3},{"i":12,"x":596.7,"y":20.1},{"i":13,"x":621.3,"y":19.7},{"i":14,"x":645.9,"y":20.1},{"i":15,"x":666.7,"y":21.3},{"i":16,"x":680.6,"y":23.1}]},
 "mark": {"type": "line", "interpolate": "cardinal-closed", "fill": "#f2cca6", "fillOpacity": 0.5, "stroke": "#c8a050", "strokeWidth": 1, "strokeDash": [5, 3, 1, 3]},
 "encoding": {"order": {"field": "i"}}},
{"data": {"values": [{"x":297.4,"x2":337.4,"y":96.1}]}, "mark": {"type": "rule", "color": "#ff00ff", "strokeWidth": 4}, "encoding": {"x2": {"field": "x2"}}},
{"data": {"values": [{"x":410.1,"x2":449.4,"y":87.6}]}, "mark": {"type": "rule", "color": "#0000ff", "strokeWidth": 4}, "encoding": {"x2": {"field": "x2"}}},
{"data": {"values": [{"x":410.1,"x2":449.4,"y":79.7}]}, "mark": {"type": "rule", "color": "#008000", "strokeWidth": 4}, "encoding": {"x2": {"field": "x2"}}},
{"data": {"values": [{"x":410.1,"x2":449.4,"y":71.9}]}, "mark": {"type": "rule", "color": "#555555", "strokeWidth": 4}, "encoding": {"x2": {"field": "x2"}}},
{"data": {"values": [{"x":410.1,"x2":449.4,"y":63.7}]}, "mark": {"type": "rule", "color": "#ff0000", "strokeWidth": 4}, "encoding": {"x2": {"field": "x2"}}},
{"data": {"values": [{"x":410.1,"x2":449.4,"y":55.2}]}, "mark": {"type": "rule", "color": "#808000", "strokeWidth": 4}, "encoding": {"x2": {"field": "x2"}}},
{"data": {"values": [{"x":343.4,"y":96.1,"t":"Aqueous solution of K₂S₂O₈ and CoCl₂"},{"x":455.7,"y":87.6,"t":"CoOOH sphere"},{"x":455.7,"y":79.7,"t":"Oxidized Co(OH)₂ by K₂S₂O₈"},{"x":455.7,"y":71.9,"t":"Co(OH)₂-Cl"},{"x":455.7,"y":63.7,"t":"Aqueous solution of CoCl₂"},{"x":455.7,"y":55.2,"t":"Aqueous solution of K₂S₂O₈"}]},
 "mark": {"type": "text", "align": "left", "baseline": "middle", "fontSize": 20, "fontWeight": "bold", "font": "Liberation Sans", "color": "#000"}, "encoding": {"text": {"field": "t"}}},
{"data": {"values": [{"x":310,"y":48.2,"t":"Co³⁺ complex"},{"x":586.6,"y":16.2,"t":"Co²⁺ (Tetrahedral)"}]},
 "mark": {"type": "text", "align": "left", "baseline": "middle", "fontSize": 17, "fontWeight": "bold", "font": "Liberation Sans", "color": "#000"}, "encoding": {"text": {"field": "t"}}},
{"data": {"values": [{"x":489.5,"y":8.9,"t":"[Co(H₂O)₆]²⁺"}]},
 "mark": {"type": "text", "align": "center", "baseline": "middle", "fontSize": 17, "fontWeight": "normal", "font": "Liberation Sans", "color": "#000"}, "encoding": {"text": {"field": "t"}}},
{"data": {"values": [{"x":250,"y":100,"t":"(c)"}]}, "mark": {"type": "text", "align": "right", "baseline": "middle", "dx": 1, "dy": -13, "fontSize": 30, "fontWeight": "bold", "font": "Liberation Sans", "color": "#000"},
 "encoding": {"text": {"field": "t"}}},
{"data": {"values": [{"x":250,"x2":800,"y":0,"y2":100}]}, "mark": {"type": "rect", "fill": "transparent", "stroke": "#000000", "strokeWidth": 2.5, "filled": false}, "encoding": {"x2": {"field": "x2"}, "y2": {"field": "y2"}}}
]
},
{
"width": 471, "height": 344,
"encoding": {
"x": {"field": "x", "type": "quantitative", "scale": {"domain": [-0.6, 22.3], "nice": false, "zero": false},
"axis": {"title": "Time (h)", "values": [0,2,4,6,8,10,12,14,16,18,20,22], "labelExpr": "datum.value % 4 === 0 ? datum.label : ''", "tickSize": -6, "labelFontSize": 25, "titleFontSize": 25, "labelPadding": 9, "titlePadding": 5}},
"y": {"field": "y", "type": "quantitative", "scale": {"domain": [3.5, 11.5], "nice": false, "zero": false},
"axis": {"title": "pH", "values": [4,4.5,5,5.5,6,6.5,7,7.5,8,8.5,9,9.5,10,10.5,11], "labelExpr": "datum.value % 1 === 0 ? format(datum.value, 'd') : ''", "tickSize": 6, "labelFontSize": 25, "titleFontSize": 26, "labelPadding": 3, "titleX": -24, "titleY": 165}}
},
"layer": [
{"data": {"values": [{"x":-0.42,"x2":0.36,"y":3.5,"y2":11.5}]}, "mark": {"type": "rect", "color": "#f8cbad", "opacity": 1}, "encoding": {"x2": {"field": "x2"}, "y2": {"field": "y2"}}},
{"data": {"values": [{"x":0.36,"x2":2.69,"y":5.41,"y2":8.06}]}, "mark": {"type": "rect", "color": "#c5e0b4", "opacity": 1}, "encoding": {"x2": {"field": "x2"}, "y2": {"field": "y2"}}},
{"data": {"values": [{"x":2.69,"x2":4.75,"y":5.41,"y2":9.84}]}, "mark": {"type": "rect", "color": "#ffe699", "opacity": 1}, "encoding": {"x2": {"field": "x2"}, "y2": {"field": "y2"}}},
{"data": {"values": [{"x":4.75,"x2":21.1,"y":9.33,"y2":11.19}]}, "mark": {"type": "rect", "color": "#b4c7e7", "opacity": 1}, "encoding": {"x2": {"field": "x2"}, "y2": {"field": "y2"}}},
{"data": {"name": "ph"}, "mark": {"type": "line", "strokeWidth": 4, "strokeCap": "round", "strokeJoin": "round"},
 "encoding": {"color": {"field": "s", "type": "nominal", "scale": {"domain": ["phRd","phMg","phBk","phBl"], "range": ["#ff0000","#ff00ff","#000000","#0000ff"]}, "legend": null}}},
{"data": {"values": [{"x":5.76,"x2":7.46,"y":6.73}]}, "mark": {"type": "rule", "color": "#ff0000", "strokeWidth": 4}, "encoding": {"x2": {"field": "x2"}}},
{"data": {"values": [{"x":5.76,"x2":7.46,"y":6.11}]}, "mark": {"type": "rule", "color": "#ff00ff", "strokeWidth": 4}, "encoding": {"x2": {"field": "x2"}}},
{"data": {"values": [{"x":5.76,"x2":7.46,"y":5.49}]}, "mark": {"type": "rule", "color": "#000000", "strokeWidth": 4}, "encoding": {"x2": {"field": "x2"}}},
{"data": {"values": [{"x":5.76,"x2":7.46,"y":4.87}]}, "mark": {"type": "rule", "color": "#0000ff", "strokeWidth": 4}, "encoding": {"x2": {"field": "x2"}}},
{"data": {"values": [{"x":7.8,"y":6.73,"t":"Pure water"},{"x":7.8,"y":6.11,"t":"Aqueous solution of K₂S₂O₈"},{"x":7.8,"y":5.49,"t":"Co(OH)₂-Cl"},{"x":7.8,"y":4.87,"t":"CoOOH sphere"}]},
 "mark": {"type": "text", "align": "left", "baseline": "middle", "fontSize": 20, "fontWeight": "bold", "font": "Liberation Sans", "color": "#000"}, "encoding": {"text": {"field": "t"}}},
{"data": {"values": [{"x":-0.6,"y":11.5,"t":"(d)"}]}, "mark": {"type": "text", "align": "right", "baseline": "middle", "dx": -2, "dy": -12, "fontSize": 30, "fontWeight": "bold", "font": "Liberation Sans", "color": "#000"},
 "encoding": {"text": {"field": "t"}}},
{"data": {"values": [{"x":-0.6,"x2":22.3,"y":3.5,"y2":11.5}]}, "mark": {"type": "rect", "fill": "transparent", "stroke": "#000000", "strokeWidth": 2.5, "filled": false}, "encoding": {"x2": {"field": "x2"}, "y2": {"field": "y2"}}}
]
}
],
"config": {
"view": {"stroke": "#000000", "strokeWidth": 2},
"font": "Liberation Sans",
"axis": {"domain": true, "domainColor": "#000", "domainWidth": 2, "grid": false, "labelFont": "Liberation Sans", "labelFontWeight": "bold", "labelColor": "#000", "titleFont": "Liberation Sans", "titleFontWeight": "bold", "titleColor": "#000", "tickColor": "#000", "tickWidth": 2, "labelFlush": false, "labelOverlap": false}
}
}
